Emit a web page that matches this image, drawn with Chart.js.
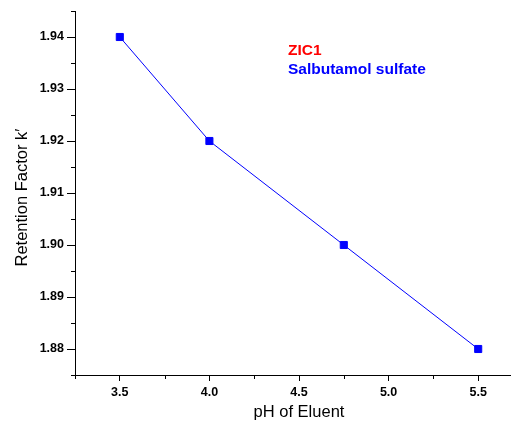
<!DOCTYPE html>
<html>
<head>
<meta charset="utf-8">
<script src="https://cdn.jsdelivr.net/npm/chart.js@4/dist/chart.umd.min.js"></script>
<style>
  html, body { margin: 0; padding: 0; background: #fff; overflow: hidden; }
  #wrap { width: 540px; height: 425px; }
</style>
</head>
<body>
<div id="wrap"><canvas id="ph-chart" width="540" height="425"></canvas></div>
<script>
// data
const phValues = [3.5, 4.0, 4.75, 5.5];
const retentionFactor = [1.94, 1.92, 1.90, 1.88];

const xTickValues = [3.5, 4.0, 4.5, 5.0, 5.5];
const yTickValues = [1.88, 1.89, 1.90, 1.91, 1.92, 1.93, 1.94];
const xMinorValues = [3.25, 3.75, 4.25, 4.75, 5.25, 5.75];
const yMinorValues = [1.875, 1.885, 1.895, 1.905, 1.915, 1.925, 1.935, 1.945];

const noteLines = ["ZIC1", "Salbutamol sulfate"];
const noteColors = ["#ff0000", "#0000ff"];

const FONT = "'Liberation Sans', Arial, sans-serif";

// short ticks between the labelled ones
const minorTicks = {
  id: "minorTicks",
  afterDraw(chart) {
    const ctx = chart.ctx;
    const xs = chart.scales.x, ys = chart.scales.y;
    const area = chart.chartArea;
    ctx.save();
    ctx.strokeStyle = "#000";
    ctx.lineWidth = 1;
    ctx.beginPath();
    yMinorValues.forEach(function (v) {
      let py = Math.round(ys.getPixelForValue(v)) + 0.5;
      ctx.moveTo(area.left - 4, py);
      ctx.lineTo(area.left, py);
    });
    xMinorValues.forEach(function (v) {
      let px = Math.round(xs.getPixelForValue(v)) + 0.5;
      ctx.moveTo(px, area.bottom);
      ctx.lineTo(px, area.bottom + 4);
    });
    ctx.stroke();
    ctx.restore();
  },
};

// coloured text block inside the plot
const notes = {
  id: "notes",
  afterDraw(chart) {
    const ctx = chart.ctx;
    const area = chart.chartArea;
    ctx.save();
    ctx.font = "bold 15.5px " + FONT;
    ctx.textBaseline = "alphabetic";
    ctx.textAlign = "left";
    noteLines.forEach(function (t, i) {
      ctx.fillStyle = noteColors[i];
      ctx.fillText(t, area.left + 213, area.top + 44 + i * 19);
    });
    ctx.restore();
  },
};

let ctx_ph = document.getElementById("ph-chart").getContext("2d");
let chart_ph = new Chart(ctx_ph, {
  type: "scatter",
  data: {
    datasets: [
      {
        label: "Salbutamol sulfate",
        data: phValues.map((x, i) => ({ x: x, y: retentionFactor[i] })),
        showLine: true,
        borderColor: "#0000ff",
        borderWidth: 1,
        backgroundColor: "#0000ff",
        pointStyle: "rect",
        pointRadius: 5,
        pointBorderWidth: 1,
        pointBorderColor: "#0000ff",
        pointBackgroundColor: "#0000ff",
      },
    ],
  },
  plugins: [minorTicks, notes],
  options: {
    responsive: false,
    animation: false,
    layout: { padding: { top: 11, right: 17, left: 0, bottom: 0 } },
    plugins: {
      legend: { display: false },
      tooltip: { enabled: false },
    },
    scales: {
      x: {
        type: "linear",
        min: 3.25,
        max: 5.75,
        afterBuildTicks: (s) => { s.ticks = xTickValues.map((v) => ({ value: v })); },
        afterFit: (s) => { s.height = 50; },
        border: { display: true, color: "#000", width: 1 },
        grid: { drawOnChartArea: false, drawTicks: true, tickLength: 6, color: "#000" },
        ticks: {
          color: "#000",
          padding: 4,
          maxRotation: 0,
          autoSkip: false,
          font: { family: FONT, size: 12.5, weight: "bold" },
          callback: (v) => Number(v).toFixed(1),
        },
        title: {
          display: true,
          text: "pH of Eluent",
          color: "#000",
          padding: { top: 0, bottom: 3 },
          font: { family: FONT, size: 16.5 },
        },
      },
      y: {
        type: "linear",
        min: 1.875,
        max: 1.945,
        afterBuildTicks: (s) => { s.ticks = yTickValues.map((v) => ({ value: v })); },
        afterFit: (s) => { s.width = 75; },
        border: { display: true, color: "#000", width: 1 },
        grid: { drawOnChartArea: false, drawTicks: true, tickLength: 8, color: "#000" },
        ticks: {
          color: "#000",
          padding: 3,
          autoSkip: false,
          font: { family: FONT, size: 12.5, weight: "bold" },
          callback: (v) => Number(v).toFixed(2),
        },
        title: {
          display: true,
          text: "Retention Factor k\u2032  ",
          color: "#000",
          padding: { top: 13, bottom: 0 },
          font: { family: FONT, size: 16.5 },
        },
      },
    },
  },
});
</script>
</body>
</html>
